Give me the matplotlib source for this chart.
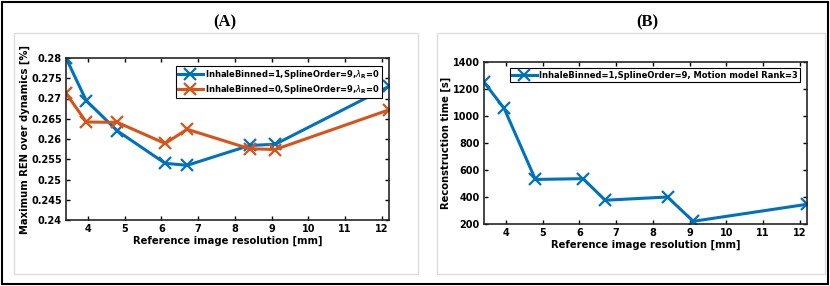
import matplotlib
matplotlib.use('Agg')
import matplotlib.pyplot as plt
from matplotlib.patches import Rectangle

# reference image resolution [mm]
resolution = [3.4, 3.95, 4.8, 6.1, 6.7, 8.4, 9.1, 12.2]

# panel A: maximum REN over dynamics
ren_binned1 = [0.2800, 0.2695, 0.2620, 0.2540, 0.2535, 0.2584, 0.2587, 0.2730]
ren_binned0 = [0.2713, 0.2642, 0.2641, 0.2589, 0.2624, 0.2576, 0.2574, 0.2672]

# panel B: reconstruction time [s]
recon_time = [1250, 1056, 530, 536, 376, 400, 220, 346]

BLUE = '#0072BD'
ORANGE = '#D95319'
W, H = 830, 286


def px_axes(fig, left, top, right, bottom):
    """Add axes using pixel coordinates measured from the top left."""
    return fig.add_axes([left / W, 1 - bottom / H, (right - left) / W, (bottom - top) / H])


def style_axes(ax):
    ax.tick_params(direction='in', top=True, right=True, length=3, width=1,
                   labelsize=7, pad=3)
    for lab in ax.get_xticklabels() + ax.get_yticklabels():
        lab.set_fontweight('bold')
    for sp in ax.spines.values():
        sp.set_linewidth(1.2)
        sp.set_color('#262626')


def add_legend(ax, anchor):
    leg = ax.legend(loc='upper right', bbox_to_anchor=anchor,
                    prop={'weight': 'bold', 'size': 6}, handlelength=2.9,
                    borderpad=0.25, labelspacing=0.25, handletextpad=0.3,
                    borderaxespad=0, fancybox=False, framealpha=1)
    leg.get_frame().set_edgecolor('black')
    leg.get_frame().set_linewidth(0.8)
    return leg


def main():
    fig = plt.figure(figsize=(W / 100, H / 100), dpi=100)

    # outer frame and panel boxes
    fig.patches.append(Rectangle((2 / W, 2 / H), (W - 4) / W, (H - 4) / H,
                                 transform=fig.transFigure, fill=False,
                                 edgecolor='black', linewidth=1.5))
    for x0, x1 in [(14, 418), (437, 825)]:
        fig.patches.append(Rectangle((x0 / W, 12 / H), (x1 - x0) / W, (253 - 12) / H,
                                     transform=fig.transFigure, fill=False,
                                     edgecolor='#dcdcdc', linewidth=1))

    fig.text(225 / W, 1 - 22 / H, '(A)', ha='center', va='center',
             family='Liberation Serif', fontweight='bold', fontsize=12)
    fig.text(647 / W, 1 - 22 / H, '(B)', ha='center', va='center',
             family='Liberation Serif', fontweight='bold', fontsize=12)

    mk = dict(marker='x', markersize=9, markeredgewidth=1.6, linewidth=2.2)

    # panel A
    ax = px_axes(fig, 66, 58, 389, 220)
    ax.plot(resolution, ren_binned1, color=BLUE,
            label=r'InhaleBinned=1,SplineOrder=9,$\lambda_\mathbf{R}$=0', **mk)
    ax.plot(resolution, ren_binned0, color=ORANGE,
            label=r'InhaleBinned=0,SplineOrder=9,$\lambda_\mathbf{R}$=0', **mk)
    ax.set_xlim(3.4, 12.2)
    ax.set_ylim(0.24, 0.28)
    ax.set_xticks(range(4, 13))
    ax.set_yticks([0.24, 0.245, 0.25, 0.255, 0.26, 0.265, 0.27, 0.275, 0.28])
    ax.set_yticklabels(['0.24', '0.245', '0.25', '0.255', '0.26', '0.265',
                        '0.27', '0.275', '0.28'])
    ax.set_xlabel('Reference image resolution [mm]', fontsize=7.2,
                  fontweight='bold', labelpad=1)
    ax.set_ylabel('Maximum REN over dynamics [%]', fontsize=7.2,
                  fontweight='bold', labelpad=1)
    style_axes(ax)
    add_legend(ax, (0.978, 0.95))

    # panel B
    ax2 = px_axes(fig, 484, 62, 807, 224)
    ax2.plot(resolution, recon_time, color=BLUE,
             label='InhaleBinned=1,SplineOrder=9, Motion model Rank=3', **mk)
    ax2.set_xlim(3.4, 12.2)
    ax2.set_ylim(200, 1400)
    ax2.set_xticks(range(4, 13))
    ax2.set_yticks(range(200, 1401, 200))
    ax2.set_xlabel('Reference image resolution [mm]', fontsize=7.2,
                   fontweight='bold', labelpad=1)
    ax2.set_ylabel('Reconstruction time [s]', fontsize=7.2,
                   fontweight='bold', labelpad=1)
    style_axes(ax2)
    add_legend(ax2, (0.978, 0.96))

    fig.savefig('out.png', dpi=100)


if __name__ == "__main__":
    main()
